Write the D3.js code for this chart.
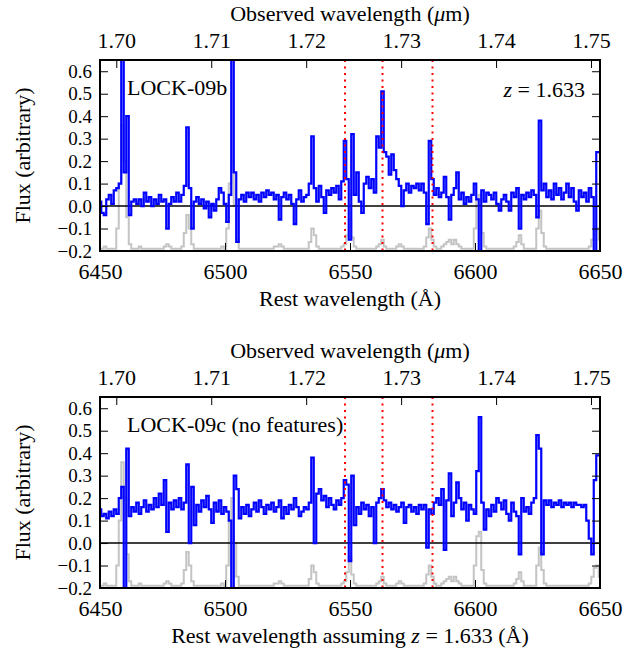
<!DOCTYPE html>
<html>
<head>
<meta charset="utf-8">
<script src="https://cdn.jsdelivr.net/npm/d3@7"></script>
<style>
    body { margin: 0; background: #fff; }
    svg text { font-family: "Liberation Serif", "Times New Roman", Times, "DejaVu Serif", serif !important; fill: #000; }
</style>
</head>
<body>
<div id="content"></div>
<script>
/*
    Spectra, sampled every 1 A in rest wavelength from 6450 to 6650
*/
var lamStart = 6450, lamStep = 1;
var redshift = 1.633;

var flux09b = [
    0.02, -0.03, -0.04, 0.03, 0.05, 0.01, 0.07, 0.08, 0.10, 0.90,
    0.15, 0.40, -0.04, 0.02, 0.03, 0.01, 0.03, 0.00, 0.06, 0.02,
    0.04, 0.00, 0.03, 0.01, 0.05, 0.02, 0.03, -0.10, 0.01, 0.04,
    0.02, 0.06, 0.02, 0.05, 0.09, 0.35, 0.08, -0.10, 0.02, 0.04,
    0.01, 0.03, -0.01, 0.02, -0.05, 0.01, -0.02, 0.03, 0.08, 0.06,
    0.01, -0.07, 0.05, 0.90, 0.15, -0.16, 0.03, 0.05, 0.02, 0.06,
    0.04, 0.06, 0.03, 0.05, 0.02, 0.06, 0.04, 0.07, 0.05, 0.06,
    0.03, 0.05, -0.06, 0.04, 0.06, 0.03, 0.05, 0.01, -0.08, 0.03,
    0.07, 0.02, 0.04, 0.05, 0.10, 0.31, 0.08, 0.02, 0.09, 0.04,
    -0.03, 0.07, 0.05, 0.08, 0.06, 0.09, 0.03, 0.11, 0.29, 0.12,
    -0.15, 0.32, 0.05, 0.15, 0.02, -0.03, 0.10, 0.13, 0.08, 0.12,
    0.06, 0.31, 0.26, 0.51, 0.24, 0.22, 0.14, 0.23, 0.16, 0.12,
    0.09, 0.00, 0.07, 0.10, 0.06, 0.09, 0.08, 0.10, 0.07, 0.10,
    0.06, -0.08, 0.29, 0.12, 0.05, 0.08, 0.04, 0.06, 0.13, 0.04,
    -0.06, 0.05, 0.08, 0.15, 0.03, 0.06, 0.01, 0.04, 0.02, 0.05,
    0.10, 0.03, -0.25, 0.07, 0.02, 0.06, 0.05, 0.03, 0.06, 0.01,
    -0.02, 0.03, 0.05, 0.02, -0.02, 0.06, 0.04, 0.08, -0.10, 0.05,
    0.03, 0.06, 0.04, 0.07, 0.05, -0.05, 0.38, 0.07, 0.10, 0.04,
    0.07, 0.03, 0.10, 0.05, 0.08, 0.03, 0.06, 0.10, 0.04, 0.08,
    0.02, -0.02, 0.07, 0.04, 0.06, 0.02, 0.08, 0.04, -0.25, 0.24,
    0.24
];

var flux09c = [
    0.15, 0.12, 0.13, 0.11, 0.14, 0.12, 0.15, 0.13, 0.20, 0.25,
    -0.30, 0.42, 0.12, 0.16, 0.14, 0.18, 0.13, 0.16, 0.19, 0.14,
    0.17, 0.15, 0.20, 0.16, 0.22, 0.17, 0.28, 0.05, 0.18, 0.15,
    0.19, 0.16, 0.20, 0.15, 0.18, 0.35, 0.00, 0.25, 0.08, 0.17,
    0.14, 0.19, 0.16, 0.21, 0.15, 0.09, 0.18, 0.14, 0.19, 0.13,
    0.16, 0.14, 0.10, -0.30, 0.30, 0.24, 0.11, 0.16, 0.13, 0.17,
    0.12, 0.15, 0.18, 0.14, 0.19, 0.16, 0.13, 0.17, 0.15, 0.18,
    0.14, 0.16, 0.19, 0.11, 0.16, 0.13, 0.17, 0.15, 0.20, 0.16,
    0.12, 0.14, 0.16, 0.15, 0.18, 0.38, 0.00, 0.22, 0.24, 0.19,
    0.21, 0.16, 0.20, 0.17, 0.15, 0.19, 0.17, 0.20, 0.28, 0.26,
    -0.08, 0.30, 0.08, 0.16, 0.13, 0.18, 0.15, 0.17, 0.12, 0.16,
    0.00, 0.18, 0.20, 0.24, 0.19, 0.16, 0.18, 0.15, 0.17, 0.14,
    0.16, 0.18, 0.09, 0.16, 0.17, 0.14, 0.16, 0.13, 0.17, 0.15,
    0.17, -0.02, 0.15, 0.13, 0.18, 0.20, 0.17, 0.24, -0.03, 0.19,
    0.31, 0.12, 0.18, 0.27, 0.20, 0.15, 0.18, 0.10, 0.17, 0.15,
    0.13, 0.32, 0.56, 0.18, 0.06, 0.15, 0.12, 0.17, 0.14, 0.20,
    0.18, 0.15, 0.19, 0.13, 0.10, 0.18, 0.14, 0.12, -0.05, 0.20,
    0.14, 0.16, 0.13, 0.18, 0.20, 0.48, 0.42, -0.05, 0.19, 0.17,
    0.19, 0.16, 0.18, 0.17, 0.19, 0.16, 0.18, 0.17, 0.18, 0.16,
    0.18, 0.17, 0.17, 0.16, 0.17, 0.10, 0.02, -0.05, 0.28, 0.39,
    0.39
];

/*
    Sky spectrum (grey), same in both panels
*/
var skyFlux = [
    -0.19, -0.19, -0.18, -0.19, -0.19, -0.19, -0.19, -0.10, 0.10, 0.36,
    0.20, -0.05, -0.17, -0.19, -0.19, -0.19, -0.18, -0.19, -0.19, -0.19,
    -0.19, -0.19, -0.19, -0.19, -0.19, -0.19, -0.18, -0.17, -0.18, -0.19,
    -0.19, -0.19, -0.19, -0.18, -0.12, -0.04, -0.10, -0.17, -0.19, -0.19,
    -0.19, -0.19, -0.19, -0.19, -0.19, -0.19, -0.19, -0.19, -0.19, -0.18,
    -0.19, -0.10, 0.10, 0.20, 0.00, -0.15, -0.19, -0.19, -0.19, -0.19,
    -0.19, -0.19, -0.19, -0.19, -0.19, -0.19, -0.19, -0.19, -0.19, -0.19,
    -0.18, -0.18, -0.17, -0.18, -0.19, -0.19, -0.19, -0.19, -0.19, -0.19,
    -0.19, -0.19, -0.19, -0.19, -0.16, -0.10, -0.13, -0.18, -0.19, -0.19,
    -0.19, -0.19, -0.19, -0.19, -0.19, -0.19, -0.19, -0.18, -0.17, -0.13,
    -0.06, -0.14, -0.18, -0.19, -0.19, -0.19, -0.19, -0.19, -0.19, -0.19,
    -0.19, -0.18, -0.17, -0.15, -0.18, -0.19, -0.19, -0.19, -0.19, -0.18,
    -0.17, -0.18, -0.19, -0.19, -0.19, -0.19, -0.19, -0.19, -0.19, -0.19,
    -0.18, -0.14, -0.10, -0.15, -0.18, -0.19, -0.19, -0.18, -0.17, -0.16,
    -0.15, -0.17, -0.15, -0.17, -0.18, -0.19, -0.19, -0.19, -0.19, -0.19,
    -0.10, 0.03, 0.05, -0.12, -0.18, -0.19, -0.19, -0.19, -0.19, -0.19,
    -0.19, -0.19, -0.19, -0.19, -0.19, -0.19, -0.18, -0.16, -0.13, -0.17,
    -0.19, -0.19, -0.19, -0.19, -0.19, -0.10, -0.02, -0.12, -0.18, -0.19,
    -0.19, -0.19, -0.19, -0.19, -0.19, -0.19, -0.19, -0.19, -0.19, -0.19,
    -0.19, -0.19, -0.19, -0.19, -0.19, -0.19, -0.18, -0.15, -0.11, -0.10,
    -0.15
];

/*
    Lines marked with red dotted rules ([NII], Halpha, [NII])
*/
var lineCentres = [6548, 6563, 6583];

var restTicks = [6450, 6500, 6550, 6600, 6650];
var obsTicks = [1.70, 1.71, 1.72, 1.73, 1.74, 1.75];
var fluxTicks = [-0.2, -0.1, 0.0, 0.1, 0.2, 0.3, 0.4, 0.5, 0.6];

/*
    Page / panel geometry
*/
var realW = 640, realH = 657;
var margin = { left: 100, right: 40 };
var w = realW - margin.left - margin.right,
    h = 191;
var tickLen = 8;
var fontSize = "22px",
    yTickFont = "19px";

var svg = d3.select("#content")
    .append("svg")
    .attr("width", realW)
    .attr("height", realH);

var xScale = d3.scaleLinear()
    .domain([6450, 6650])
    .range([0, w]);
/*
    observed (micron) -> rest (A)
*/
function obsToRest(mu) {
    return mu * 1e4 / (1 + redshift);
}

function toSeries(arr) {
    return arr.map(function (v, i) { return [lamStart + i * lamStep, v]; });
}

var panels = [
    { top: 60, flux: flux09b, name: "LOCK-09b", showZ: true,
      xlabel: "Rest wavelength (Å)", id: "p1" },
    { top: 397, flux: flux09c, name: "LOCK-09c (no features)", showZ: false,
      xlabel: null, id: "p2" }
];

panels.forEach(drawPanel);

function drawPanel(p) {
    var yScale = d3.scaleLinear()
        .domain([-0.2, 0.65])
        .range([h, 0]);

    var g = svg.append("g")
        .attr("transform", "translate(" + margin.left + "," + p.top + ")");

    g.append("clipPath")
        .attr("id", "clip-" + p.id)
        .append("rect")
        .attr("width", w)
        .attr("height", h);

    var line = d3.line()
        .curve(d3.curveStep)
        .x(function (d) { return xScale(d[0]); })
        .y(function (d) { return yScale(d[1]); });

    var plot = g.append("g").attr("clip-path", "url(#clip-" + p.id + ")");

    plot.append("path")
        .datum(toSeries(skyFlux))
        .attr("d", line)
        .style("fill", "none")
        .style("stroke", "#c4c4c4")
        .style("stroke-width", 2);

    plot.append("line")
        .attr("x1", 0).attr("x2", w)
        .attr("y1", yScale(0)).attr("y2", yScale(0))
        .style("stroke", "#000")
        .style("stroke-width", 1.6);

    plot.append("path")
        .datum(toSeries(p.flux))
        .attr("d", line)
        .style("fill", "none")
        .style("stroke", "#0000ff")
        .style("stroke-width", 2.2)
        .style("stroke-linejoin", "miter");

    plot.selectAll(".emline")
        .data(lineCentres)
        .enter()
        .append("line")
        .attr("class", "emline")
        .attr("x1", function (d) { return xScale(d); })
        .attr("x2", function (d) { return xScale(d); })
        .attr("y1", 0).attr("y2", h)
        .style("stroke", "#ff0000")
        .style("stroke-width", 2)
        .style("stroke-dasharray", "2,4.5");

    /*
        Axes: ticks point inwards, classic matplotlib look
    */
    var bottomAxis = d3.axisBottom(xScale)
        .tickValues(restTicks)
        .tickFormat(d3.format("d"))
        .tickSizeInner(-tickLen)
        .tickSizeOuter(0)
        .tickPadding(12);

    var topAxis = d3.axisTop(xScale)
        .tickValues(obsTicks.map(obsToRest))
        .tickFormat(function (d, i) { return obsTicks[i].toFixed(2); })
        .tickSizeInner(-tickLen)
        .tickSizeOuter(0)
        .tickPadding(12);

    var leftAxis = d3.axisLeft(yScale)
        .tickValues(fluxTicks)
        .tickFormat(function (d) { return d3.format(".1f")(d).replace("-", "\u2212"); })
        .tickSizeInner(-tickLen)
        .tickSizeOuter(0)
        .tickPadding(8);

    var rightAxis = d3.axisRight(yScale)
        .tickValues(fluxTicks)
        .tickFormat("")
        .tickSizeInner(-tickLen)
        .tickSizeOuter(0);

    g.append("g").attr("class", "axis xaxis")
        .attr("transform", "translate(0," + h + ")")
        .call(bottomAxis);
    g.append("g").attr("class", "axis xaxis")
        .call(topAxis);
    g.append("g").attr("class", "axis yaxis")
        .call(leftAxis);
    g.append("g").attr("class", "axis yaxis")
        .attr("transform", "translate(" + w + ",0)")
        .call(rightAxis);

    g.selectAll(".axis .domain").remove();
    g.selectAll(".axis").attr("font-family", null);
    g.selectAll(".xaxis text")
        .style("font-size", fontSize);
    g.selectAll(".yaxis text")
        .style("font-size", yTickFont);
    g.selectAll(".axis line")
        .style("stroke", "#000")
        .style("stroke-width", 1);

    g.append("rect")
        .attr("width", w)
        .attr("height", h)
        .style("fill", "none")
        .style("stroke", "#000")
        .style("stroke-width", 2);

    /*
        Labels
    */
    g.append("text")
        .attr("x", w / 2)
        .attr("y", -39)
        .attr("text-anchor", "middle")
        .style("font-size", fontSize)
        .html("Observed wavelength (<tspan font-style='italic'>μ</tspan>m)");

    g.append("text")
        .attr("transform", "translate(-70," + (h / 2) + ") rotate(-90)")
        .attr("text-anchor", "middle")
        .style("font-size", fontSize)
        .text("Flux (arbitrary)");

    g.append("text")
        .attr("x", 27)
        .attr("y", 35)
        .style("font-size", fontSize)
        .text(p.name);

    if (p.showZ) {
        g.append("text")
            .attr("x", w - 15)
            .attr("y", 37)
            .attr("text-anchor", "end")
            .style("font-size", fontSize)
            .html("<tspan font-style='italic'>z</tspan> = 1.633");
    }

    var xl = g.append("text")
        .attr("x", w / 2)
        .attr("y", h + 55)
        .attr("text-anchor", "middle")
        .style("font-size", fontSize);
    if (p.xlabel) {
        xl.text(p.xlabel);
    } else {
        xl.html("Rest wavelength assuming <tspan font-style='italic'>z</tspan> = 1.633 (Å)");
    }
}
</script>
</body>
</html>
